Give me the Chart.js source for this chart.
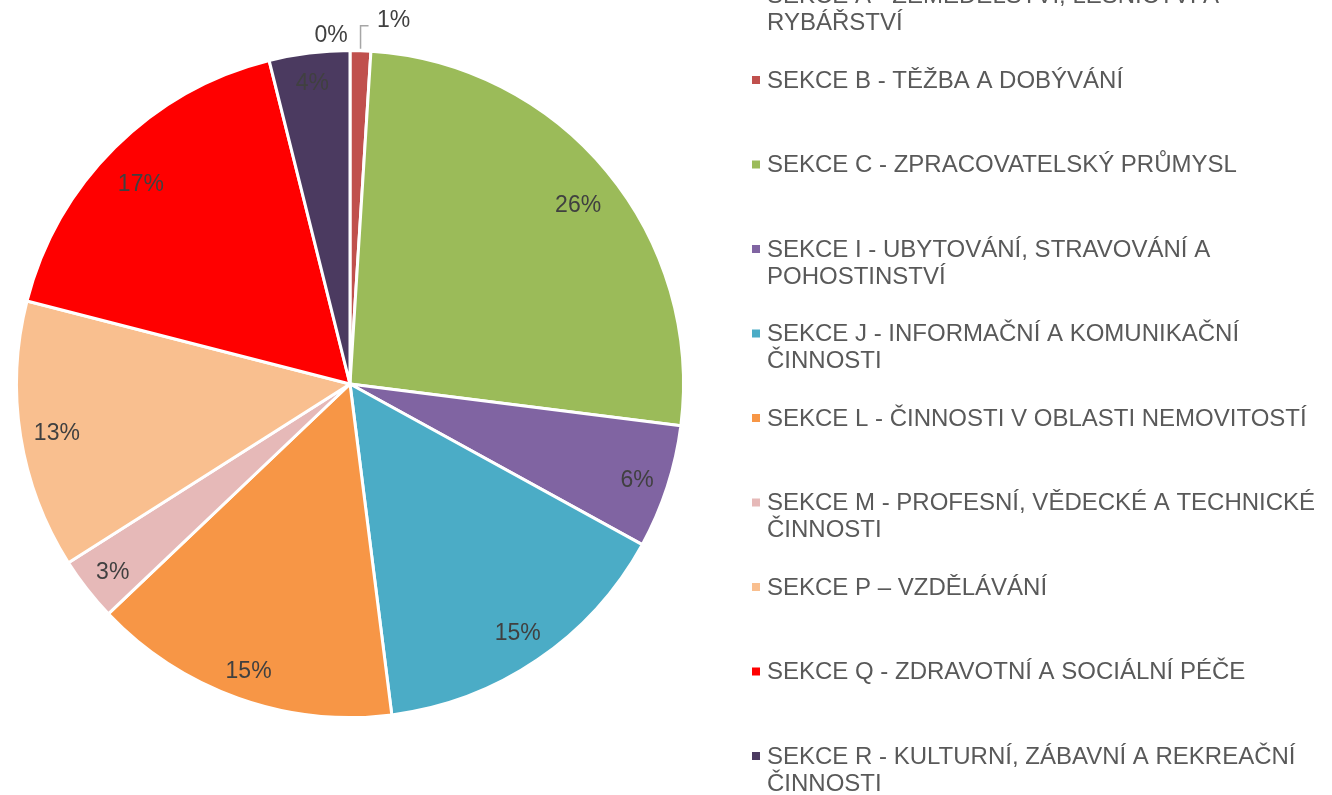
<!DOCTYPE html>
<html>
<head>
<meta charset="utf-8">
<script src="https://cdn.jsdelivr.net/npm/chart.js@4.4.0/dist/chart.umd.min.js"></script>
<style>
html,body{margin:0;padding:0;background:#fff;}
#wrap{position:relative;width:1332px;height:795px;}
</style>
</head>
<body>
<div id="wrap"><canvas id="c" width="1332" height="795"></canvas></div>
<script>
const categories = [
  "SEKCE A - ZEMĚDĚLSTVÍ, LESNICTVÍ A RYBÁŘSTVÍ",
  "SEKCE B - TĚŽBA A DOBÝVÁNÍ",
  "SEKCE C - ZPRACOVATELSKÝ PRŮMYSL",
  "SEKCE I - UBYTOVÁNÍ, STRAVOVÁNÍ A POHOSTINSTVÍ",
  "SEKCE J - INFORMAČNÍ A KOMUNIKAČNÍ ČINNOSTI",
  "SEKCE L - ČINNOSTI V OBLASTI NEMOVITOSTÍ",
  "SEKCE M - PROFESNÍ, VĚDECKÉ A TECHNICKÉ ČINNOSTI",
  "SEKCE P – VZDĚLÁVÁNÍ",
  "SEKCE Q - ZDRAVOTNÍ A SOCIÁLNÍ PÉČE",
  "SEKCE R - KULTURNÍ, ZÁBAVNÍ A REKREAČNÍ ČINNOSTI"
];
const shares = [0, 1.0, 26.0, 6.0, 15.0, 14.9, 3.1, 13.0, 17.1, 3.9];
const colors = ["#8EB4E3","#C0504D","#9BBB59","#8064A2","#4BACC6","#F79646","#E6B9B8","#F9BF8F","#FF0000","#4B3A60"];

const FONT = '"Liberation Sans", Arial, sans-serif';

const labelPlugin = {
  id: 'sliceLabels',
  afterDatasetsDraw(chart) {
    const ctx = chart.ctx;
    const meta = chart.getDatasetMeta(0);
    const data = chart.data.datasets[0].data;
    const total = data.reduce((a, b) => a + b, 0);
    ctx.save();
    ctx.font = '23px ' + FONT;
    ctx.textAlign = 'center';
    ctx.textBaseline = 'middle';
    meta.data.forEach((arc, i) => {
      const pct = Math.round(data[i] / total * 100) + '%';
      const mid = (arc.startAngle + arc.endAngle) / 2;
      const r = arc.outerRadius;
      const c = Math.cos(mid), s = Math.sin(mid);
      if (data[i] / total < 0.02) {
        if (data[i] === 0) {
          ctx.fillStyle = '#404040';
          ctx.fillText(pct, arc.x + c * (r + 18) - 19, arc.y + s * (r + 18) + 3);
        } else {
          const ox = arc.x + c * (r + 2);
          const oy = arc.y + s * (r + 2);
          ctx.strokeStyle = '#A6A6A6';
          ctx.lineWidth = 1.5;
          ctx.beginPath();
          ctx.moveTo(ox, oy);
          ctx.lineTo(ox, oy - 23);
          ctx.lineTo(ox + 8, oy - 23);
          ctx.stroke();
          ctx.fillStyle = '#404040';
          ctx.fillText(pct, ox + 33, oy - 28);
        }
      } else {
        // place text box so that its outer corner sits just inside the rim
        const hw = ctx.measureText(pct).width / 2, hh = 12;
        const R = r - 12;
        const b = Math.abs(c) * hw + Math.abs(s) * hh;
        const d = -b + Math.sqrt(b * b - (hw * hw + hh * hh - R * R));
        const dy = 3 + (s < 0 ? 16 * Math.abs(s * c) : 0);
        ctx.fillStyle = '#404040';
        ctx.fillText(pct, arc.x + c * d, arc.y + s * d + dy);
      }
    });
    ctx.restore();
  }
};

const legendPlugin = {
  id: 'sideLegend',
  afterDraw(chart) {
    const ctx = chart.ctx;
    const labels = chart.data.labels;
    const cols = chart.data.datasets[0].backgroundColor;
    const x0 = 752, tx = 767, maxW = 556, step = 84.5, firstY = -4.5, lineH = 27;
    ctx.save();
    ctx.font = '24px ' + FONT;
    ctx.textBaseline = 'middle';
    ctx.textAlign = 'left';
    labels.forEach((lab, i) => {
      const y = firstY + i * step;
      const words = lab.split(' ');
      const lines = [];
      let cur = '';
      words.forEach(w => {
        const t = cur ? cur + ' ' + w : w;
        if (ctx.measureText(t).width > maxW && cur) { lines.push(cur); cur = w; }
        else cur = t;
      });
      if (cur) lines.push(cur);
      ctx.fillStyle = cols[i];
      ctx.fillRect(x0, y - 4, 8, 8);
      ctx.fillStyle = '#595959';
      lines.forEach((ln, k) => ctx.fillText(ln, tx, y + 1 + k * lineH));
    });
    ctx.restore();
  }
};

new Chart(document.getElementById('c'), {
  type: 'pie',
  data: {
    labels: categories,
    datasets: [{
      data: shares,
      backgroundColor: colors,
      borderColor: '#FFFFFF',
      borderWidth: 3
    }]
  },
  options: {
    responsive: false,
    animation: false,
    layout: { padding: { left: 15, top: 49, right: 647, bottom: 76 } },
    plugins: {
      legend: { display: false },
      tooltip: { enabled: false }
    }
  },
  plugins: [labelPlugin, legendPlugin]
});
</script>
</body>
</html>
